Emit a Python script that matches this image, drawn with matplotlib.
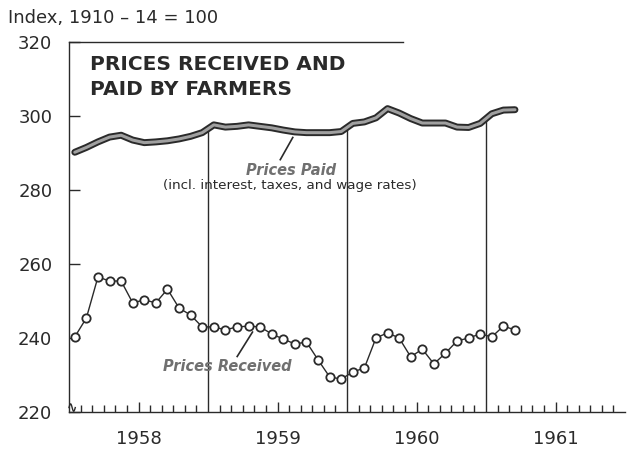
import matplotlib
matplotlib.use("Agg")
import matplotlib.pyplot as plt
import numpy as np

# monthly index values, Jan 1958 - Mar 1961
years = [1958, 1959, 1960, 1961]
received = [240.3, 245.4, 256.5, 255.4, 255.4, 249.5, 250.3, 249.5, 253.2, 248.1, 246.2, 243.0,
            243.0, 242.2, 243.0, 243.2, 243.0, 241.1, 239.7, 238.4, 238.9, 234.1, 229.5, 228.9,
            230.8, 231.9, 240.0, 241.4, 240.0, 234.9, 237.0, 233.0, 235.9, 239.2, 240.0, 241.1,
            240.3, 243.2, 242.2]
paid = [290.2, 291.5, 293.0, 294.3, 294.8, 293.5, 292.8, 293.0, 293.3, 293.8, 294.5, 295.5,
        297.6, 297.0, 297.2, 297.6, 297.2, 296.8, 296.2, 295.7, 295.5, 295.5, 295.5, 295.8,
        298.0, 298.4, 299.5, 302.0, 300.8, 299.3, 298.1, 298.1, 298.1, 297.0, 296.9, 298.0,
        300.6, 301.6, 301.7]
yticks = [220, 240, 260, 280, 300, 320]

ink = "#2a2a2a"
plt.rcParams['font.family'] = ['DejaVu Sans']

fig = plt.figure(figsize=(6.27, 4.49), dpi=100)
ax = fig.add_axes([69/627, 1-412/449, 556/627, 370/449])

x = np.array([years[0] + (i + 0.5) / 12 for i in range(len(received))])

# prices paid - thick stippled looking band
ax.plot(x, paid, color=ink, lw=5.0, solid_capstyle='round', solid_joinstyle='round', zorder=3)
ax.plot(x, paid, color="#a0a0a0", lw=2.2, solid_capstyle='round', solid_joinstyle='round', zorder=4)

# prices received
ax.plot(x, received, color=ink, lw=1.0, marker='o', ms=6, mfc='white', mec=ink, mew=1.3, zorder=5)

# year divider lines up to the prices paid curve
for yr in years[1:]:
    top = np.interp(yr, x, paid)
    ax.vlines(yr, 220, top, color=ink, lw=1.0, zorder=2)

ax.set_xlim(1958, 1962)
ax.set_ylim(220, 320)

for s in ['top', 'right']:
    ax.spines[s].set_visible(False)
ax.spines['left'].set_color(ink)
ax.spines['bottom'].set_color(ink)
ax.spines['left'].set_linewidth(1.0)
ax.spines['bottom'].set_linewidth(1.0)
ax.plot([0, 0.6], [1, 1], transform=ax.transAxes, color=ink, lw=1.0, clip_on=False)

ax.set_yticks(yticks)
ax.set_yticklabels([str(v) for v in yticks])
ax.tick_params(axis='y', direction='in', length=8, width=1, color=ink, pad=12,
               labelsize=13, labelcolor=ink)

mids = [yr + 0.5 for yr in years]
ax.set_xticks(mids)
ax.set_xticklabels([str(yr) for yr in years])
months = [yr + m / 12 for yr in years for m in range(1, 12) if m != 6]
ax.set_xticks(months, minor=True)
ax.tick_params(axis='x', which='major', direction='in', length=7, width=1, color=ink,
               pad=13, labelsize=13, labelcolor=ink)
ax.tick_params(axis='x', which='minor', direction='in', length=5, width=1, color=ink)

# axis break squiggle
sx = np.linspace(1958.0, 1958.045, 30)
sy = 221.2 + 1.0 * np.sin((sx - 1958.0) / 0.045 * 2 * np.pi)
ax.plot(sx, sy, color=ink, lw=1.0, clip_on=False, zorder=6)

fig.text(8/627, 1-18/449, "Index, 1910 \u2013 14 = 100", fontsize=13, color=ink, va='center')
ax.text(1958.15, 316.5, "PRICES RECEIVED AND\nPAID BY FARMERS", fontsize=14.5, fontweight='bold',
        color=ink, va='top', ha='left', linespacing=1.4)

ax.text(1959.597, 285.4, "Prices Paid", fontsize=10.5, fontweight='bold', style='italic',
        color="#707070", ha='center', va='center')
ax.text(1959.59, 281.1, "(incl. interest, taxes, and wage rates)", fontsize=9.7,
        color=ink, ha='center', va='center')
ax.plot([1959.52, 1959.61], [288.2, 294.2], color=ink, lw=1.2)

ax.text(1959.137, 232.4, "Prices Received", fontsize=10.5, fontweight='bold', style='italic',
        color="#707070", ha='center', va='center')
ax.plot([1959.21, 1959.32], [235.0, 241.6], color=ink, lw=1.2)

fig.savefig("out.png", dpi=100)
